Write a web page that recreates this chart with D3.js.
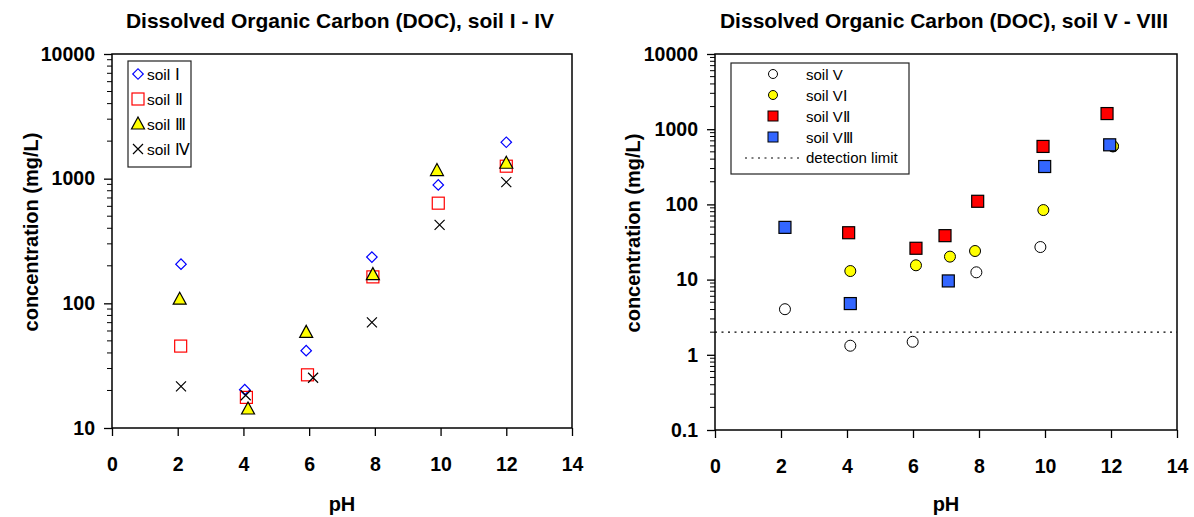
<!DOCTYPE html>
<html>
<head>
<meta charset="utf-8">
<script src="https://cdn.jsdelivr.net/npm/d3@7"></script>
<style>
  body { margin: 0; background: #fff; }
  svg { font-family: Arial, "Liberation Sans", sans-serif; }
</style>
</head>
<body>
<svg width="1194" height="517"></svg>
<script>
var svg = d3.select("svg");

// left panel data (pH, mg/L)
var soil1 = [[2.1, 206], [4.04, 20.3], [5.91, 41.7], [7.91, 235], [9.93, 891], [12.0, 1960]];
var soil2 = [[2.09, 45.4], [4.09, 17.6], [5.95, 26.7], [7.94, 163], [9.93, 636], [12.0, 1259]];
var soil3 = [[2.06, 108], [4.14, 14.2], [5.91, 58.5], [7.94, 170], [9.89, 1161], [12.0, 1330]];
var soil4 = [[2.1, 21.6], [4.07, 18.3], [6.12, 25.3], [7.91, 70.3], [9.97, 426], [12.0, 937]];

// right panel data
var soil5 = [[2.12, 4.04], [4.1, 1.32], [5.99, 1.49], [7.92, 12.5], [9.86, 27.1], [12.06, 590]];
var soil6 = [[4.1, 13.0], [6.09, 15.5], [7.12, 20.2], [7.88, 24.0], [9.95, 84.1], [12.06, 595]];
var soil7 = [[4.05, 42], [6.09, 26.1], [6.97, 38.4], [7.96, 110], [9.94, 590], [11.88, 1614]];
var soil8 = [[2.12, 49.5], [4.1, 4.8], [7.07, 9.6], [9.99, 319], [11.96, 620]];
var detectionLimit = 2;

var xTicks = [0, 2, 4, 6, 8, 10, 12, 14];
var yTicksLeft = [10, 100, 1000, 10000];
var yTicksRight = [0.1, 1, 10, 100, 1000, 10000];

function panel(opt) {
  var g = svg.append("g");
  var x = d3.scaleLinear().domain([0, 14]).range([opt.x0, opt.x1]);
  var y = d3.scaleLog().domain(opt.ydom).range([opt.y1, opt.y0]);

  // minor ticks
  var minors = [];
  for (var e = Math.log10(opt.ydom[0]); e < Math.log10(opt.ydom[1]); e++) {
    for (var k = 2; k <= 9; k++) minors.push(k * Math.pow(10, e));
  }
  g.selectAll(".minor").data(minors).enter().append("line")
    .attr("x1", opt.x0 - 5).attr("x2", opt.x0)
    .attr("y1", d => y(d)).attr("y2", d => y(d))
    .attr("stroke", "black").attr("stroke-width", 1);

  var yAxis = d3.axisLeft(y).tickValues(opt.yticks).tickSize(8).tickPadding(9)
    .tickFormat(d => d3.format("")(d));
  var ya = g.append("g").attr("transform", "translate(" + opt.x0 + ",0)").call(yAxis);
  var xAxis = d3.axisBottom(x).tickValues(xTicks).tickSize(8).tickPadding(21);
  var xa = g.append("g").attr("transform", "translate(0," + opt.y1 + ")").call(xAxis);
  [ya, xa].forEach(function (a) {
    a.select(".domain").remove();
    a.selectAll("text").attr("font-size", 19.5).attr("font-weight", "bold")
      .attr("font-family", "Arial, 'Liberation Sans', sans-serif").attr("fill", "black");
    a.selectAll("line").attr("stroke-width", 1.3);
  });

  // frame
  g.append("rect").attr("x", opt.x0).attr("y", opt.y0)
    .attr("width", opt.x1 - opt.x0).attr("height", opt.y1 - opt.y0)
    .attr("fill", "none").attr("stroke", "black").attr("stroke-width", 1.5);

  g.append("text").attr("x", (opt.x0 + opt.x1) / 2 - 2).attr("y", 28)
    .attr("text-anchor", "middle").attr("font-size", 21).attr("font-weight", "bold")
    .text(opt.title);
  g.append("text").attr("x", (opt.x0 + opt.x1) / 2).attr("y", 511)
    .attr("text-anchor", "middle").attr("font-size", 20).attr("font-weight", "bold")
    .text("pH");
  g.append("text")
    .attr("transform", "translate(" + opt.ylabX + "," + ((opt.y0 + opt.y1) / 2 - 9) + ") rotate(-90)")
    .attr("text-anchor", "middle").attr("font-size", 20).attr("font-weight", "bold")
    .text("concentration (mg/L)");
  return {g: g, x: x, y: y};
}

var L = panel({x0: 112, x1: 572, y0: 54, y1: 428, ydom: [10, 10000], yticks: yTicksLeft,
  title: "Dissolved Organic Carbon (DOC), soil I - IV", ylabX: 38});
var R = panel({x0: 715, x1: 1177, y0: 54, y1: 430, ydom: [0.1, 10000], yticks: yTicksRight,
  title: "Dissolved Organic Carbon (DOC), soil V - VIII", ylabX: 640});

// marker drawers
function diamond(g, cx, cy) {
  g.append("path").attr("d", d3.symbol(d3.symbolSquare, 55)())
    .attr("transform", "translate(" + cx + "," + cy + ") rotate(45)")
    .attr("fill", "white").attr("stroke", "#0000ff").attr("stroke-width", 1.2);
}
function osq(g, cx, cy) {
  g.append("rect").attr("x", cx - 6).attr("y", cy - 6).attr("width", 12).attr("height", 12)
    .attr("fill", "none").attr("stroke", "#ff0000").attr("stroke-width", 1.2);
}
function tri(g, cx, cy) {
  g.append("path").attr("d", "M" + cx + "," + (cy - 7) + "L" + (cx + 6.5) + "," + (cy + 5) + "L" + (cx - 6.5) + "," + (cy + 5) + "Z")
    .attr("fill", "#ffff00").attr("stroke", "black").attr("stroke-width", 1.2);
}
function cross(g, cx, cy) {
  g.append("path").attr("d", "M" + (cx - 5) + "," + (cy - 5) + "L" + (cx + 5) + "," + (cy + 5) + "M" + (cx - 5) + "," + (cy + 5) + "L" + (cx + 5) + "," + (cy - 5))
    .attr("stroke", "black").attr("stroke-width", 1.2);
}
function circ(fill) {
  return function (g, cx, cy) {
    g.append("circle").attr("cx", cx).attr("cy", cy).attr("r", 5.5)
      .attr("fill", fill).attr("stroke", "black").attr("stroke-width", 1);
  };
}
function fsq(fill) {
  return function (g, cx, cy) {
    g.append("rect").attr("x", cx - 6).attr("y", cy - 6).attr("width", 12).attr("height", 12)
      .attr("fill", fill).attr("stroke", "black").attr("stroke-width", 1.2);
  };
}

function plot(P, data, fn) {
  var gg = P.g.append("g");
  data.forEach(function (d) { fn(gg, P.x(d[0]), P.y(d[1])); });
}

plot(L, soil1, diamond);
plot(L, soil2, osq);
plot(L, soil3, tri);
plot(L, soil4, cross);

// detection limit
R.g.append("line").attr("x1", R.x(0)).attr("x2", R.x(14))
  .attr("y1", R.y(detectionLimit)).attr("y2", R.y(detectionLimit))
  .attr("stroke", "black").attr("stroke-width", 1.2).attr("stroke-dasharray", "2,4.5");

plot(R, soil5, circ("white"));
plot(R, soil6, circ("#ffff00"));
plot(R, soil7, fsq("#ff0000"));
plot(R, soil8, fsq("#3366ff"));

// legends
var lg = L.g.append("g");
lg.append("rect").attr("x", 128).attr("y", 61).attr("width", 63).attr("height", 106)
  .attr("fill", "white").attr("stroke", "#222").attr("stroke-width", 1.2);
var legL = ["soil Ⅰ", "soil Ⅱ", "soil Ⅲ", "soil Ⅳ"];
var fnL = [diamond, osq, tri, cross];
legL.forEach(function (t, i) {
  var yy = 74 + i * 25;
  fnL[i](lg, 138, yy);
  lg.append("text").attr("x", 147).attr("y", yy + 5.5).attr("font-size", 15.5).text(t);
});

var rg = R.g.append("g");
rg.append("rect").attr("x", 731).attr("y", 63).attr("width", 178).attr("height", 111)
  .attr("fill", "white").attr("stroke", "#222").attr("stroke-width", 1.2);
var legR = ["soil V", "soil VⅠ", "soil VⅡ", "soil VⅢ"];
legR.forEach(function (t, i) {
  var yy = 74 + i * 21;
  if (i < 2) {
    rg.append("circle").attr("cx", 773).attr("cy", yy).attr("r", 4.5)
      .attr("fill", i ? "#ffff00" : "white").attr("stroke", "black");
  } else {
    rg.append("rect").attr("x", 768).attr("y", yy - 5).attr("width", 10).attr("height", 10)
      .attr("fill", i == 2 ? "#ff0000" : "#3366ff").attr("stroke", "black");
  }
  rg.append("text").attr("x", 806).attr("y", yy + 5.5).attr("font-size", 15).text(t);
});
rg.append("line").attr("x1", 745).attr("x2", 800).attr("y1", 158).attr("y2", 158)
  .attr("stroke", "black").attr("stroke-width", 1.2).attr("stroke-dasharray", "2,4.5");
rg.append("text").attr("x", 806).attr("y", 163).attr("font-size", 15).text("detection limit");
</script>
</body>
</html>
